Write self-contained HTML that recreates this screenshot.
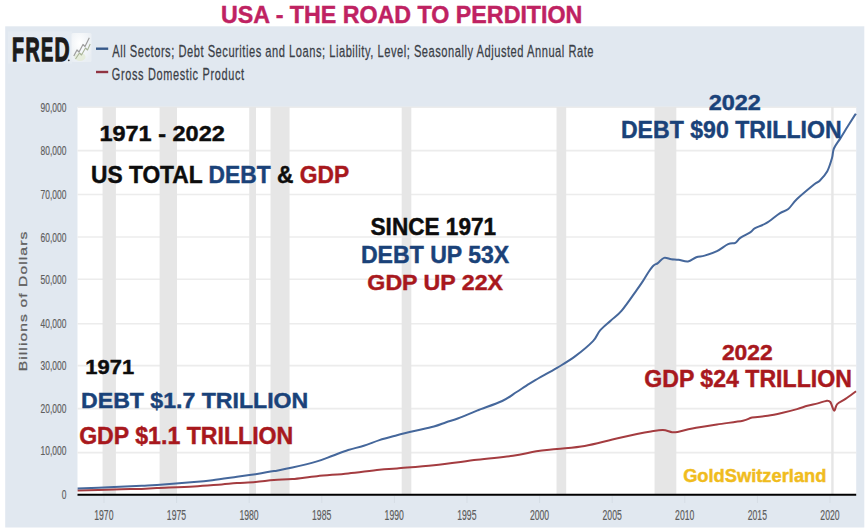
<!DOCTYPE html>
<html><head><meta charset="utf-8"><title>USA - The Road to Perdition</title>
<style>
html,body{margin:0;padding:0;background:#fff;}
body{width:866px;height:529px;overflow:hidden;}
svg{display:block;font-family:"Liberation Sans",Arial,sans-serif;}
</style></head>
<body>
<svg width="866" height="529" viewBox="0 0 866 529">
<rect x="5.2" y="26.3" width="859.1" height="501.2" fill="#e1e8f0"/>
<rect x="77.5" y="107.0" width="778.7" height="387.75" fill="#ffffff"/>
<line x1="77.5" x2="856.2" y1="452.60" y2="452.60" stroke="#ececec" stroke-width="1.6"/>
<line x1="77.5" x2="856.2" y1="408.60" y2="408.60" stroke="#ececec" stroke-width="1.6"/>
<line x1="77.5" x2="856.2" y1="365.60" y2="365.60" stroke="#ececec" stroke-width="1.6"/>
<line x1="77.5" x2="856.2" y1="323.80" y2="323.80" stroke="#ececec" stroke-width="1.6"/>
<line x1="77.5" x2="856.2" y1="279.30" y2="279.30" stroke="#ececec" stroke-width="1.6"/>
<line x1="77.5" x2="856.2" y1="237.00" y2="237.00" stroke="#ececec" stroke-width="1.6"/>
<line x1="77.5" x2="856.2" y1="194.50" y2="194.50" stroke="#ececec" stroke-width="1.6"/>
<line x1="77.5" x2="856.2" y1="150.60" y2="150.60" stroke="#ececec" stroke-width="1.6"/>
<line x1="77.5" x2="856.2" y1="107.30" y2="107.30" stroke="#ececec" stroke-width="1.6"/>
<rect x="102.55" y="107.0" width="13.36" height="387.75" fill="#e6e6e6"/>
<rect x="159.61" y="107.0" width="17.42" height="387.75" fill="#e6e6e6"/>
<rect x="249.20" y="107.0" width="6.82" height="387.75" fill="#e6e6e6"/>
<rect x="270.54" y="107.0" width="19.02" height="387.75" fill="#e6e6e6"/>
<rect x="401.66" y="107.0" width="9.68" height="387.75" fill="#e6e6e6"/>
<rect x="556.54" y="107.0" width="9.67" height="387.75" fill="#e6e6e6"/>
<rect x="654.55" y="107.0" width="21.78" height="387.75" fill="#e6e6e6"/>
<rect x="831.21" y="107.0" width="2.42" height="387.75" fill="#e6e6e6"/>
<line x1="77.5" x2="856.2" y1="494.75" y2="494.75" stroke="#000" stroke-width="2.2"/>
<path d="M77.6,490.6 C83.7,490.4 103.3,489.7 114.0,489.4 C124.7,489.1 134.5,489.1 141.7,488.9 C148.9,488.7 148.3,488.4 157.0,488.0 C165.7,487.6 183.2,487.0 194.0,486.4 C204.8,485.8 214.5,484.9 221.7,484.4 C228.9,483.8 231.4,483.5 237.0,483.1 C242.6,482.7 249.3,482.4 255.5,481.9 C261.7,481.4 267.9,480.5 274.0,480.0 C280.1,479.5 285.2,479.7 292.4,479.1 C299.6,478.5 307.7,477.1 317.0,476.2 C326.3,475.2 337.8,474.5 348.2,473.4 C358.6,472.3 371.3,470.5 379.4,469.7 C387.5,468.9 387.9,469.1 397.0,468.4 C406.1,467.6 420.6,466.6 433.9,465.2 C447.2,463.8 463.8,461.4 477.0,459.8 C490.2,458.2 503.1,457.2 513.0,455.8 C522.9,454.4 529.0,452.4 536.3,451.3 C543.6,450.2 548.9,449.9 557.0,449.0 C565.1,448.1 575.5,447.5 584.7,445.9 C593.9,444.3 603.7,441.5 612.4,439.5 C621.1,437.5 630.6,435.4 637.0,434.0 C643.4,432.6 646.6,432.0 650.9,431.4 C655.2,430.8 659.4,430.0 662.9,430.1 C666.4,430.2 669.5,431.9 672.1,432.2 C674.7,432.5 675.2,432.3 678.6,431.7 C682.0,431.1 686.0,429.7 692.4,428.5 C698.8,427.3 708.6,425.8 717.0,424.5 C725.4,423.2 737.0,421.8 742.9,420.7 C748.8,419.6 748.0,418.4 752.1,417.6 C756.2,416.8 762.9,416.6 767.8,415.8 C772.7,415.0 776.8,414.1 781.7,413.0 C786.6,411.9 792.7,410.3 797.0,409.1 C801.3,407.9 803.9,406.8 807.4,405.8 C810.9,404.9 814.7,404.2 817.8,403.4 C820.9,402.6 824.0,401.1 826.1,400.9 C828.2,400.7 829.0,400.4 830.3,402.0 C831.6,403.6 833.0,410.2 834.1,410.6 C835.2,411.0 835.3,406.1 837.2,404.1 C839.1,402.2 842.4,401.0 845.5,398.9 C848.6,396.8 854.2,392.5 856.0,391.2" fill="none" stroke="#a43c40" stroke-width="2.0" stroke-linejoin="round" stroke-linecap="butt"/>
<path d="M77.6,488.6 C83.7,488.4 103.3,487.6 114.0,487.1 C124.7,486.6 134.5,486.1 141.7,485.7 C148.9,485.3 148.3,485.5 157.0,484.9 C165.7,484.3 184.8,482.9 194.0,482.1 C203.2,481.3 205.2,481.1 212.4,480.2 C219.6,479.3 229.8,477.8 237.0,476.8 C244.2,475.8 249.3,475.1 255.5,474.2 C261.7,473.2 267.9,472.2 274.0,471.1 C280.1,470.0 285.2,469.2 292.4,467.6 C299.6,466.0 310.3,463.4 317.0,461.4 C323.7,459.4 327.4,457.6 332.6,455.7 C337.8,453.8 343.0,451.6 348.2,450.0 C353.4,448.4 358.6,447.4 363.8,445.8 C369.0,444.2 373.9,441.9 379.4,440.1 C384.9,438.3 391.0,436.8 397.0,435.2 C403.0,433.6 409.2,432.2 415.4,430.8 C421.5,429.4 428.8,427.9 433.9,426.5 C439.0,425.1 442.1,423.6 446.2,422.2 C450.3,420.8 453.3,420.2 458.4,418.3 C463.5,416.4 469.7,413.5 477.0,410.6 C484.3,407.7 495.6,404.1 502.2,401.0 C508.8,397.9 512.1,394.9 516.6,392.0 C521.1,389.1 525.5,386.1 529.1,383.9 C532.7,381.6 533.5,381.2 538.1,378.5 C542.8,375.8 550.9,371.6 557.0,367.9 C563.1,364.2 569.0,360.9 575.0,356.4 C581.0,351.9 588.8,345.5 593.0,341.1 C597.2,336.8 597.1,333.8 600.1,330.3 C603.1,326.9 607.3,323.7 610.9,320.4 C614.5,317.1 617.4,315.7 621.7,310.6 C626.1,305.5 633.4,294.6 637.0,289.6 C640.6,284.6 641.3,283.5 643.2,280.6 C645.1,277.7 646.7,274.7 648.4,272.2 C650.1,269.7 652.0,267.0 653.6,265.5 C655.2,264.0 656.1,264.4 657.8,263.1 C659.5,261.8 661.8,258.5 664.0,257.9 C666.2,257.2 668.9,258.9 671.3,259.2 C673.7,259.5 675.8,259.4 678.6,259.8 C681.4,260.2 685.0,261.9 688.0,261.5 C691.0,261.1 693.5,258.2 696.3,257.2 C699.1,256.2 701.1,256.6 704.6,255.6 C708.1,254.6 713.1,253.0 717.0,251.1 C720.9,249.2 725.0,245.5 728.1,244.1 C731.2,242.7 733.4,243.8 735.4,242.8 C737.4,241.8 737.8,239.6 740.3,237.9 C742.8,236.2 747.7,234.0 750.2,232.4 C752.7,230.8 752.4,229.6 755.1,228.1 C757.8,226.6 762.1,225.7 766.2,223.2 C770.3,220.7 776.0,215.7 779.7,213.3 C783.4,210.9 785.4,211.4 788.3,209.0 C791.2,206.6 792.7,203.1 797.0,199.0 C801.3,194.9 810.2,187.6 814.0,184.5 C817.8,181.4 817.5,182.9 819.7,180.7 C821.9,178.5 825.2,175.0 827.3,171.2 C829.3,167.4 830.9,161.8 832.0,158.0 C833.1,154.2 832.5,151.8 833.9,148.5 C835.3,145.2 838.1,141.9 840.5,138.1 C842.9,134.3 845.7,129.6 848.1,125.8 C850.5,122.0 853.4,117.4 854.7,115.4 C856.0,113.4 855.8,113.9 856.0,113.6" fill="none" stroke="#45679b" stroke-width="2.0" stroke-linejoin="round" stroke-linecap="butt"/>
<text x="61.65" y="498.90" font-size="13.4" fill="#5e5e5e" stroke="#5e5e5e" stroke-width="0.2" textLength="4.68" lengthAdjust="spacingAndGlyphs">0</text>
<text x="40.57" y="455.20" font-size="13.4" fill="#5e5e5e" stroke="#5e5e5e" stroke-width="0.2" textLength="25.76" lengthAdjust="spacingAndGlyphs">10,000</text>
<text x="40.57" y="413.20" font-size="13.4" fill="#5e5e5e" stroke="#5e5e5e" stroke-width="0.2" textLength="25.76" lengthAdjust="spacingAndGlyphs">20,000</text>
<text x="40.57" y="369.90" font-size="13.4" fill="#5e5e5e" stroke="#5e5e5e" stroke-width="0.2" textLength="25.76" lengthAdjust="spacingAndGlyphs">30,000</text>
<text x="40.57" y="328.40" font-size="13.4" fill="#5e5e5e" stroke="#5e5e5e" stroke-width="0.2" textLength="25.76" lengthAdjust="spacingAndGlyphs">40,000</text>
<text x="40.57" y="283.60" font-size="13.4" fill="#5e5e5e" stroke="#5e5e5e" stroke-width="0.2" textLength="25.76" lengthAdjust="spacingAndGlyphs">50,000</text>
<text x="40.57" y="241.60" font-size="13.4" fill="#5e5e5e" stroke="#5e5e5e" stroke-width="0.2" textLength="25.76" lengthAdjust="spacingAndGlyphs">60,000</text>
<text x="40.57" y="199.10" font-size="13.4" fill="#5e5e5e" stroke="#5e5e5e" stroke-width="0.2" textLength="25.76" lengthAdjust="spacingAndGlyphs">70,000</text>
<text x="40.57" y="155.20" font-size="13.4" fill="#5e5e5e" stroke="#5e5e5e" stroke-width="0.2" textLength="25.76" lengthAdjust="spacingAndGlyphs">80,000</text>
<text x="40.57" y="112.10" font-size="13.4" fill="#5e5e5e" stroke="#5e5e5e" stroke-width="0.2" textLength="25.76" lengthAdjust="spacingAndGlyphs">90,000</text>
<line x1="104.00" x2="104.00" y1="496" y2="503" stroke="#d6dde5" stroke-width="1"/>
<line x1="176.60" x2="176.60" y1="496" y2="503" stroke="#d6dde5" stroke-width="1"/>
<line x1="249.20" x2="249.20" y1="496" y2="503" stroke="#d6dde5" stroke-width="1"/>
<line x1="321.80" x2="321.80" y1="496" y2="503" stroke="#d6dde5" stroke-width="1"/>
<line x1="394.40" x2="394.40" y1="496" y2="503" stroke="#d6dde5" stroke-width="1"/>
<line x1="467.00" x2="467.00" y1="496" y2="503" stroke="#d6dde5" stroke-width="1"/>
<line x1="539.60" x2="539.60" y1="496" y2="503" stroke="#d6dde5" stroke-width="1"/>
<line x1="612.20" x2="612.20" y1="496" y2="503" stroke="#d6dde5" stroke-width="1"/>
<line x1="684.80" x2="684.80" y1="496" y2="503" stroke="#d6dde5" stroke-width="1"/>
<line x1="757.40" x2="757.40" y1="496" y2="503" stroke="#d6dde5" stroke-width="1"/>
<line x1="830.00" x2="830.00" y1="496" y2="503" stroke="#d6dde5" stroke-width="1"/>
<text x="94.21" y="519.8" font-size="14.8" fill="#5c5c5c" stroke="#5c5c5c" stroke-width="0.2" textLength="19.26" lengthAdjust="spacingAndGlyphs">1970</text>
<text x="166.82" y="519.8" font-size="14.8" fill="#5c5c5c" stroke="#5c5c5c" stroke-width="0.2" textLength="19.26" lengthAdjust="spacingAndGlyphs">1975</text>
<text x="239.41" y="519.8" font-size="14.8" fill="#5c5c5c" stroke="#5c5c5c" stroke-width="0.2" textLength="19.26" lengthAdjust="spacingAndGlyphs">1980</text>
<text x="312.02" y="519.8" font-size="14.8" fill="#5c5c5c" stroke="#5c5c5c" stroke-width="0.2" textLength="19.26" lengthAdjust="spacingAndGlyphs">1985</text>
<text x="384.61" y="519.8" font-size="14.8" fill="#5c5c5c" stroke="#5c5c5c" stroke-width="0.2" textLength="19.26" lengthAdjust="spacingAndGlyphs">1990</text>
<text x="457.22" y="519.8" font-size="14.8" fill="#5c5c5c" stroke="#5c5c5c" stroke-width="0.2" textLength="19.26" lengthAdjust="spacingAndGlyphs">1995</text>
<text x="529.92" y="519.8" font-size="14.8" fill="#5c5c5c" stroke="#5c5c5c" stroke-width="0.2" textLength="19.26" lengthAdjust="spacingAndGlyphs">2000</text>
<text x="602.53" y="519.8" font-size="14.8" fill="#5c5c5c" stroke="#5c5c5c" stroke-width="0.2" textLength="19.26" lengthAdjust="spacingAndGlyphs">2005</text>
<text x="675.12" y="519.8" font-size="14.8" fill="#5c5c5c" stroke="#5c5c5c" stroke-width="0.2" textLength="19.26" lengthAdjust="spacingAndGlyphs">2010</text>
<text x="747.73" y="519.8" font-size="14.8" fill="#5c5c5c" stroke="#5c5c5c" stroke-width="0.2" textLength="19.26" lengthAdjust="spacingAndGlyphs">2015</text>
<text x="820.32" y="519.8" font-size="14.8" fill="#5c5c5c" stroke="#5c5c5c" stroke-width="0.2" textLength="19.26" lengthAdjust="spacingAndGlyphs">2020</text>
<text transform="translate(26.5,370) rotate(-90) scale(1.35,1)" x="-0.95" y="0" font-size="11.6" fill="#606060" stroke="#606060" stroke-width="0.25" textLength="103.38" lengthAdjust="spacing">Billions of Dollars</text>
<line x1="96" x2="108.2" y1="48.7" y2="48.7" stroke="#36598a" stroke-width="2.4"/>
<line x1="96" x2="108.2" y1="72" y2="72" stroke="#913442" stroke-width="2.4"/>
<text transform="scale(0.66,1)" x="170.12" y="56.90" font-size="16.86" fill="#3a3e46" textLength="729.12" lengthAdjust="spacing" stroke="#3a3e46" stroke-width="0.25">All Sectors; Debt Securities and Loans; Liability, Level; Seasonally Adjusted Annual Rate</text>
<text transform="scale(0.66,1)" x="169.32" y="80.30" font-size="16.57" fill="#3a3e46" textLength="200.50" lengthAdjust="spacing" stroke="#3a3e46" stroke-width="0.25">Gross Domestic Product</text>
<rect x="8" y="31.5" width="64" height="32" fill="#e5ebf2"/>
<text x="12.09" y="60.70" font-size="33.28" font-weight="bold" fill="#1b1b1b" textLength="11.92" lengthAdjust="spacingAndGlyphs" stroke="#1b1b1b" stroke-width="1.3" stroke-linejoin="miter">F</text>
<text x="25.38" y="60.70" font-size="33.28" font-weight="bold" fill="#1b1b1b" textLength="14.22" lengthAdjust="spacingAndGlyphs" stroke="#1b1b1b" stroke-width="1.3" stroke-linejoin="miter">R</text>
<text x="40.97" y="60.70" font-size="33.28" font-weight="bold" fill="#1b1b1b" textLength="12.25" lengthAdjust="spacingAndGlyphs" stroke="#1b1b1b" stroke-width="1.3" stroke-linejoin="miter">E</text>
<text x="54.50" y="60.70" font-size="33.28" font-weight="bold" fill="#1b1b1b" textLength="15.07" lengthAdjust="spacingAndGlyphs" stroke="#1b1b1b" stroke-width="1.3" stroke-linejoin="miter">D</text>
<circle cx="68.8" cy="60.3" r="0.9" fill="#333"/>
<defs><radialGradient id="ig" cx="0.4" cy="0.35" r="0.7"><stop offset="0" stop-color="#ffffff"/><stop offset="1" stop-color="#e9eef3"/></radialGradient></defs>
<rect x="71.5" y="33" width="20" height="29" rx="1.5" fill="url(#ig)"/>
<ellipse cx="80" cy="57" rx="5.5" ry="4" fill="#e4ebd6" opacity="0.8"/>
<polyline points="73.8,56 77,50 79,52 83,44.5 85,46.5 89.3,37.8" fill="none" stroke="#9c9c9c" stroke-width="1.2" stroke-linejoin="round"/>
<polyline points="75.5,59 79.5,53 81.5,55 85.5,48 87.5,50 90.2,44" fill="none" stroke="#a9b49a" stroke-width="1.1" stroke-linejoin="round"/>
<text x="221.01" y="22.80" font-size="24.27" font-weight="bold" fill="#bf2262" textLength="361.35" lengthAdjust="spacingAndGlyphs" stroke="#bf2262" stroke-width="0.45">USA - THE ROAD TO PERDITION</text>
<text x="99.42" y="140.70" font-size="22.06" font-weight="bold" fill="#0d0d0d" textLength="125.42" lengthAdjust="spacingAndGlyphs" stroke="#0d0d0d" stroke-width="0.45">1971 - 2022</text>
<text x="90.95" y="182.8" font-size="23.55" font-weight="bold" fill="#0d0d0d" stroke="#0d0d0d" stroke-width="0.45" textLength="258.13" lengthAdjust="spacingAndGlyphs">US TOTAL <tspan fill="#1a4279" stroke="#1a4279">DEBT</tspan> &amp; <tspan fill="#a8181d" stroke="#a8181d">GDP</tspan></text>
<text x="370.55" y="235.10" font-size="23.11" font-weight="bold" fill="#0d0d0d" textLength="125.58" lengthAdjust="spacingAndGlyphs" stroke="#0d0d0d" stroke-width="0.45">SINCE 1971</text>
<text x="360.96" y="262.80" font-size="23.55" font-weight="bold" fill="#1a4279" textLength="148.24" lengthAdjust="spacingAndGlyphs" stroke="#1a4279" stroke-width="0.45">DEBT UP 53X</text>
<text x="367.36" y="290.20" font-size="22.67" font-weight="bold" fill="#a8181d" textLength="135.65" lengthAdjust="spacingAndGlyphs" stroke="#a8181d" stroke-width="0.45">GDP UP 22X</text>
<text x="708.69" y="110.20" font-size="22.49" font-weight="bold" fill="#1a4279" textLength="52.25" lengthAdjust="spacingAndGlyphs" stroke="#1a4279" stroke-width="0.45">2022</text>
<text x="620.96" y="137.70" font-size="24.27" font-weight="bold" fill="#1a4279" textLength="220.60" lengthAdjust="spacingAndGlyphs" stroke="#1a4279" stroke-width="0.45">DEBT $90 TRILLION</text>
<text x="85.32" y="373.90" font-size="20.77" font-weight="bold" fill="#0d0d0d" textLength="48.79" lengthAdjust="spacingAndGlyphs" stroke="#0d0d0d" stroke-width="0.45">1971</text>
<text x="81.05" y="407.90" font-size="22.82" font-weight="bold" fill="#1a4279" textLength="227.20" lengthAdjust="spacingAndGlyphs" stroke="#1a4279" stroke-width="0.45">DEBT $1.7 TRILLION</text>
<text x="79.15" y="443.70" font-size="23.84" font-weight="bold" fill="#a8181d" textLength="214.10" lengthAdjust="spacingAndGlyphs" stroke="#a8181d" stroke-width="0.45">GDP $1.1 TRILLION</text>
<text x="721.91" y="359.90" font-size="21.78" font-weight="bold" fill="#a8181d" textLength="50.81" lengthAdjust="spacingAndGlyphs" stroke="#a8181d" stroke-width="0.45">2022</text>
<text x="644.25" y="387.10" font-size="23.11" font-weight="bold" fill="#a8181d" textLength="207.60" lengthAdjust="spacingAndGlyphs" stroke="#a8181d" stroke-width="0.45">GDP $24 TRILLION</text>
<text x="683.15" y="481.80" font-size="17.80" font-weight="bold" fill="#f0bc1e" textLength="143.26" lengthAdjust="spacingAndGlyphs" stroke="#f0bc1e" stroke-width="0.45">GoldSwitzerland</text>
</svg>
</body></html>
